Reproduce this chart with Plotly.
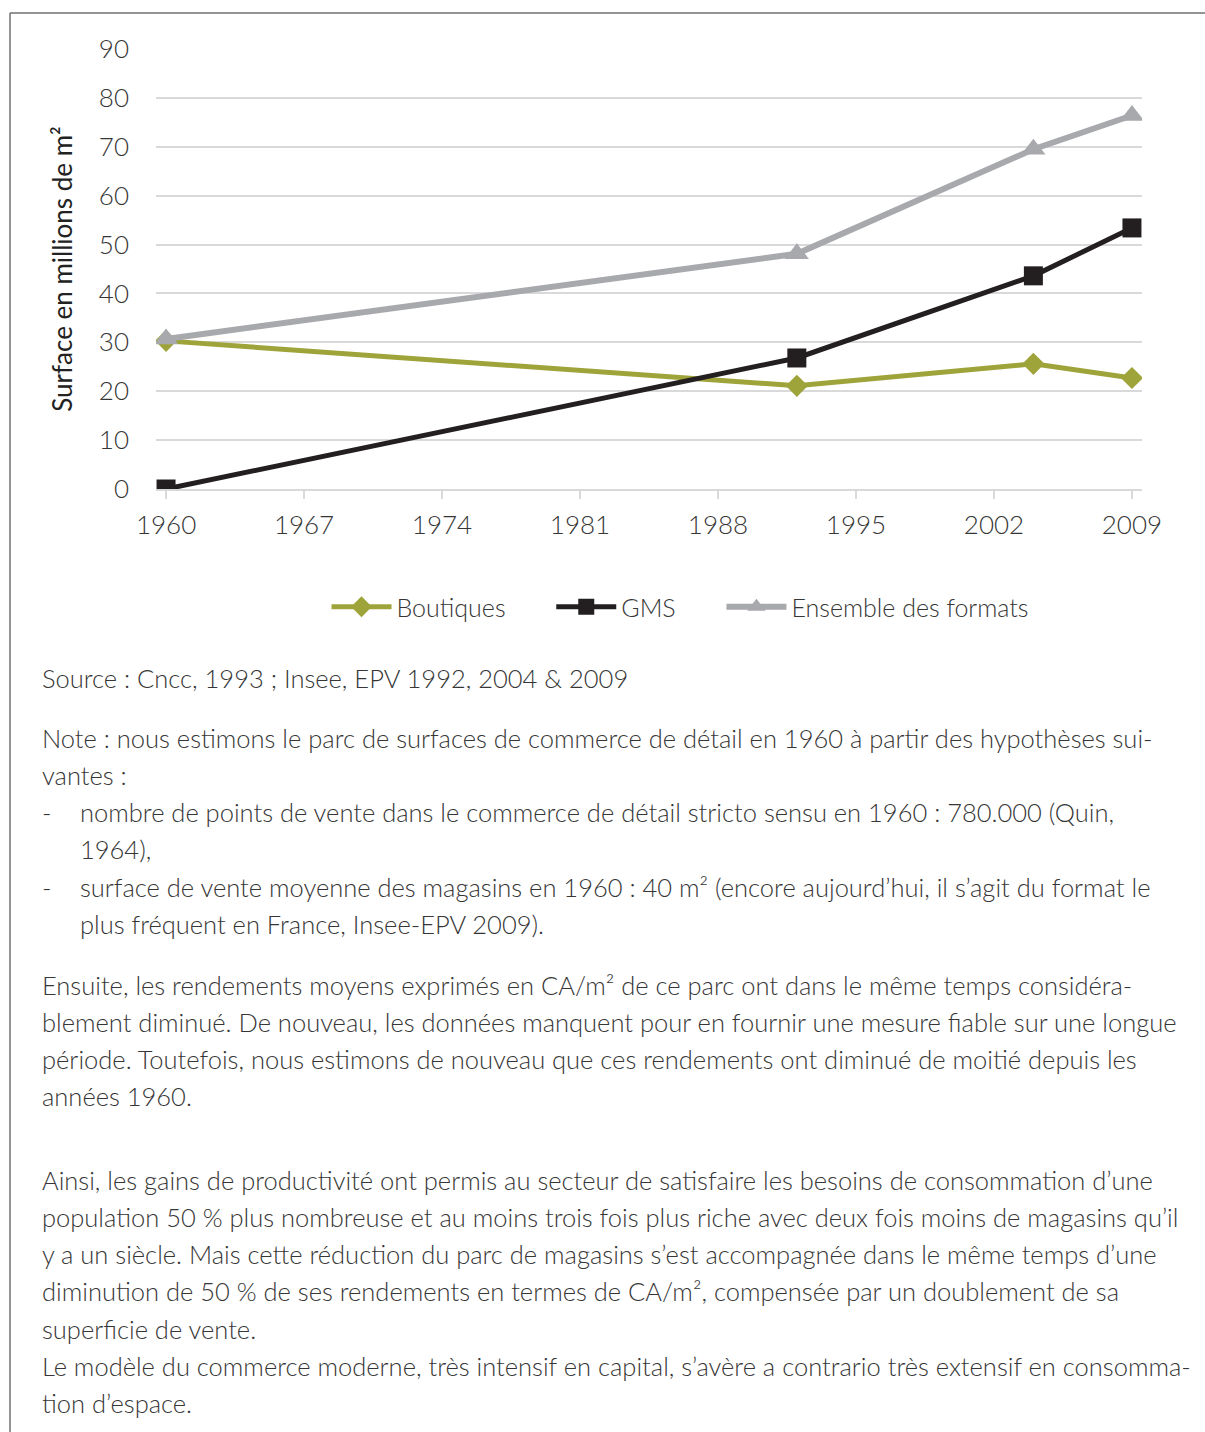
import plotly.graph_objects as go

# Surface de vente (millions de m²)
years = [1960, 1992, 2004, 2009]
boutiques = [30.3, 21.1, 25.6, 22.7]
gms = [0.0, 26.8, 43.6, 53.4]
ensemble = [30.7, 48.1, 69.5, 76.4]

x_ticks = [1960, 1967, 1974, 1981, 1988, 1995, 2002, 2009]
y_ticks = [0, 10, 20, 30, 40, 50, 60, 70, 80, 90]

OLIVE = "#9fa43a"
BLACK = "#231f20"
GREY = "#a7a9ac"
TEXT = "#363636"
FONT = "Lato"

W, H = 1205, 1432
ML, MR, MT, MB = 156, 63, 49, 943
PW, PH = W - ML - MR, H - MT - MB


def px(xp):
    return (xp - ML) / PW


def py(yp):
    return (H - MB - yp) / PH


GAP = "\u00a0" * 6  # extra room between legend entries

fig = go.Figure()
fig.add_trace(go.Scatter(
    x=years, y=boutiques, name="Boutiques" + GAP, mode="lines+markers",
    line=dict(color=OLIVE, width=5),
    marker=dict(symbol="diamond", size=17, color=OLIVE),
))
fig.add_trace(go.Scatter(
    x=years, y=gms, name="GMS" + GAP, mode="lines+markers",
    line=dict(color=BLACK, width=5),
    marker=dict(symbol="square", size=19, color=BLACK),
))
fig.add_trace(go.Scatter(
    x=years, y=ensemble, name="Ensemble des formats", mode="lines+markers",
    line=dict(color=GREY, width=6),
    marker=dict(symbol="triangle-up", size=21, color=GREY),
))

notes = [
    (678, 40, "Source : Cncc, 1993 ; Insee, EPV 1992, 2004 & 2009"),
    (738, 40, "Note : nous estimons le parc de surfaces de commerce de détail en 1960 à partir des hypothèses sui-"),
    (775, 40, "vantes :"),
    (812, 40, "-"),
    (812, 78, "nombre de points de vente dans le commerce de détail stricto sensu en 1960 : 780.000 (Quin,"),
    (849, 78, "1964),"),
    (887, 40, "-"),
    (887, 78, "surface de vente moyenne des magasins en 1960 : 40 m² (encore aujourd’hui, il s’agit du format le"),
    (924, 78, "plus fréquent en France, Insee-EPV 2009)."),
    (985, 40, "Ensuite, les rendements moyens exprimés en CA/m² de ce parc ont dans le même temps considéra-"),
    (1022, 40, "blement diminué. De nouveau, les données manquent pour en fournir une mesure fiable sur une longue"),
    (1059, 40, "période. Toutefois, nous estimons de nouveau que ces rendements ont diminué de moitié depuis les"),
    (1096, 40, "années 1960."),
    (1180, 40, "Ainsi, les gains de productivité ont permis au secteur de satisfaire les besoins de consommation d’une"),
    (1217, 40, "population 50 % plus nombreuse et au moins trois fois plus riche avec deux fois moins de magasins qu’il"),
    (1254, 40, "y a un siècle. Mais cette réduction du parc de magasins s’est accompagnée dans le même temps d’une"),
    (1291, 40, "diminution de 50 % de ses rendements en termes de CA/m², compensée par un doublement de sa"),
    (1329, 40, "superficie de vente."),
    (1366, 40, "Le modèle du commerce moderne, très intensif en capital, s’avère a contrario très extensif en consomma-"),
    (1403, 40, "tion d’espace."),
]

annotations = [
    dict(x=px(x0), y=py(y0), xref="paper", yref="paper", text=t,
         xanchor="left", yanchor="middle", showarrow=False,
         font=dict(family=FONT, size=25.5, color=TEXT, weight=300))
    for (y0, x0, t) in notes
]

frame = [
    dict(type="line", xref="paper", yref="paper",
         x0=px(10), x1=px(1210), y0=py(13), y1=py(13),
         line=dict(color="#707070", width=1.5)),
    dict(type="line", xref="paper", yref="paper",
         x0=px(10), x1=px(10), y0=py(13), y1=py(1440),
         line=dict(color="#707070", width=1.5)),
]

fig.update_layout(
    width=W, height=H,
    margin=dict(l=ML, r=MR, t=MT, b=MB),
    paper_bgcolor="white", plot_bgcolor="white",
    font=dict(family=FONT, size=26, color=TEXT, weight=300),
    showlegend=True,
    legend=dict(
        orientation="h", x=px(680), y=py(607), xanchor="center", yanchor="middle",
        font=dict(family=FONT, size=25, color=TEXT, weight=300),
        itemwidth=60, tracegroupgap=0, bgcolor="rgba(0,0,0,0)",
    ),
    xaxis=dict(
        range=[1959.49, 2009.51], tickvals=x_ticks, ticktext=[str(v) for v in x_ticks],
        showgrid=False, zeroline=False,
        showline=True, linecolor="#d9d9d9", linewidth=2,
        ticks="outside", ticklen=8, tickwidth=2, tickcolor="#d9d9d9",
        tickfont=dict(size=26, color=TEXT),
        ticklabelstandoff=4,
    ),
    yaxis=dict(
        range=[0, 90], tickvals=y_ticks,
        showgrid=True, gridcolor="#d9d9d9", gridwidth=2,
        zeroline=False, showline=False, ticks="",
        tickfont=dict(size=26, color=TEXT),
        ticklabelstandoff=26,
        title=dict(text="Surface en millions de m²", standoff=18,
                   font=dict(size=26, color="#222222", weight=400)),
    ),
    annotations=annotations,
    shapes=frame,
)

fig.write_html("out.html")
